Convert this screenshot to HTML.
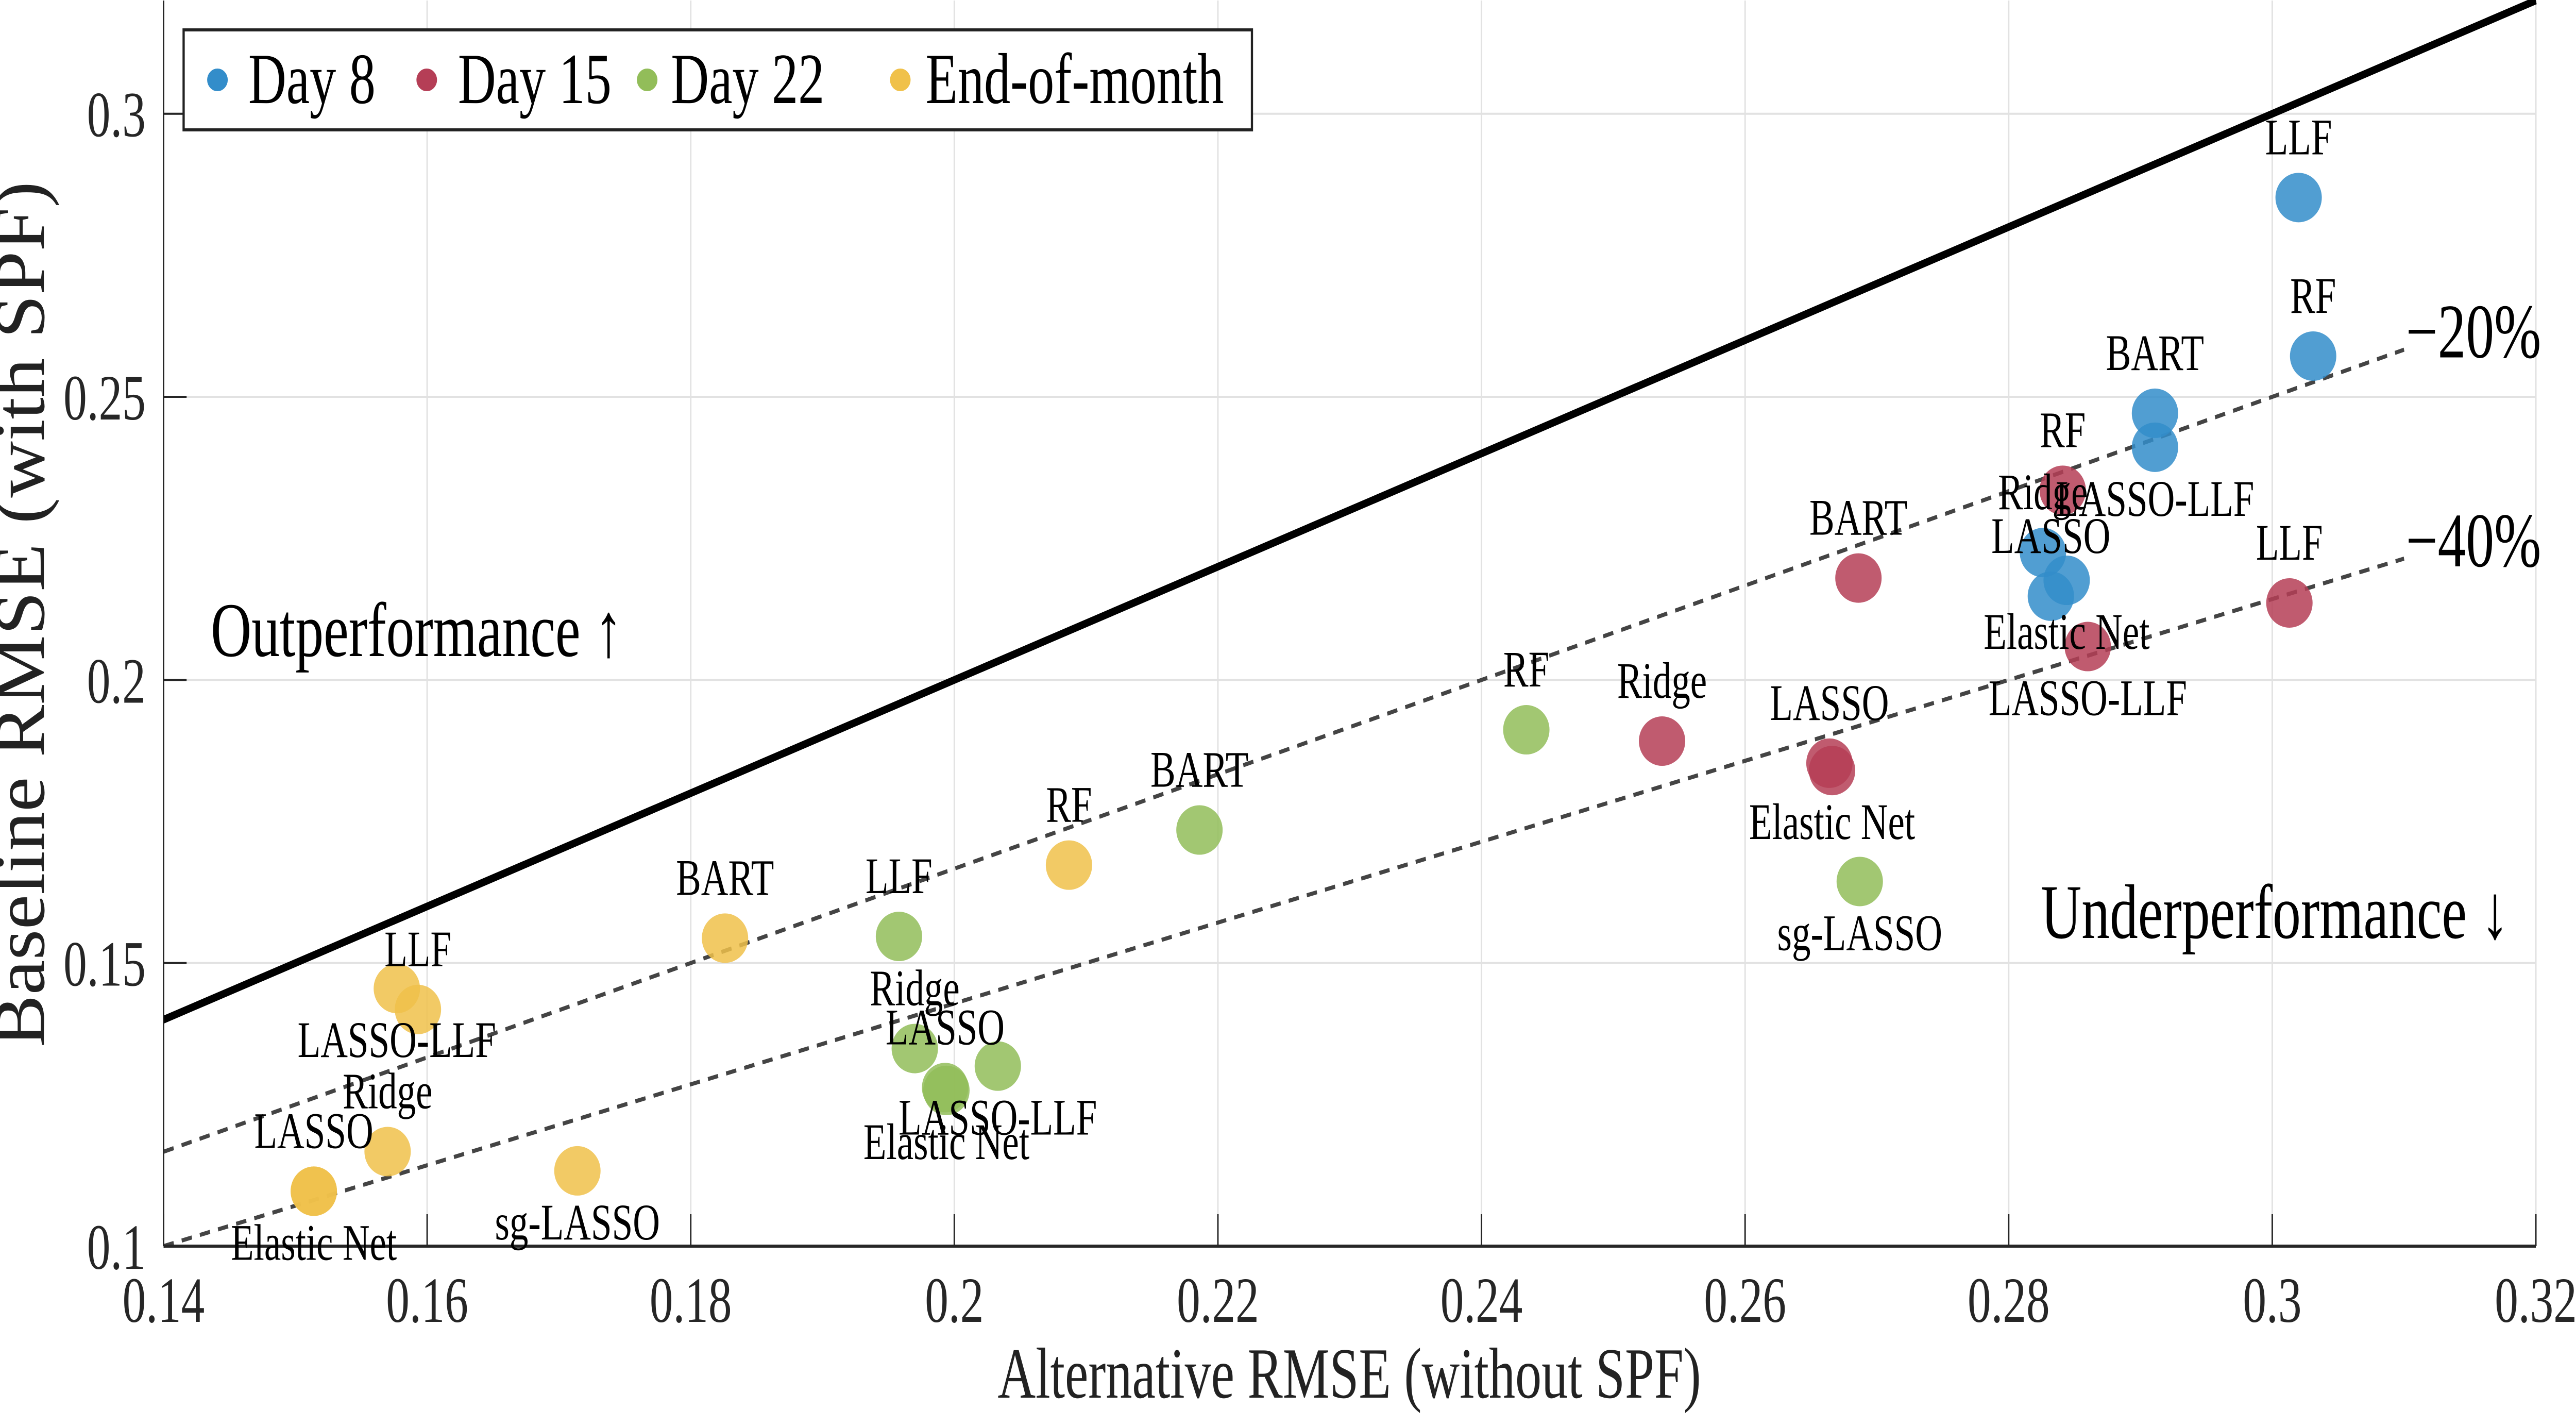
<!DOCTYPE html>
<html><head><meta charset="utf-8">
<style>
html,body{margin:0;padding:0;background:#fff;width:100%;height:100%;overflow:hidden;}
svg{display:block;font-family:"Liberation Serif",serif;width:100vw;height:100vh;}
</style></head>
<body>
<svg id="chart" viewBox="0 0 6930 2767" preserveAspectRatio="none" xmlns="http://www.w3.org/2000/svg">
<g id="grid"></g>
<g id="refs"></g>
<g id="axes"></g>
<g id="points"></g>
<g id="labels"></g>
<text class="st" x="567" y="1273" font-size="150" fill="#000">Outperformance ↑</text>
<text class="st" x="6750" y="1820" font-size="150" text-anchor="end" fill="#000">Underperformance ↓</text>
<text class="st" x="3630" y="2712" font-size="140" text-anchor="middle" fill="#222">Alternative RMSE (without SPF)</text>
<g id="ytitleg" transform="translate(118,2032)">
  <g transform="rotate(-90)">
    <text x="0" y="0" font-size="140" fill="#222" textLength="1680" lengthAdjust="spacingAndGlyphs">Baseline RMSE (with SPF)</text>
  </g>
</g>
<g>
  <rect x="494" y="58" width="2874" height="194" fill="#fff" stroke="#222" stroke-width="6"/>
  <g><ellipse class="dot" cx="585" cy="155" rx="20" ry="22" fill="#338dca"/><text class="st" x="668" y="200" font-size="140">Day 8</text></g>
  <g><ellipse class="dot" cx="1148" cy="155" rx="20" ry="22" fill="#b53e56"/><text class="st" x="1232" y="200" font-size="140">Day 15</text></g>
  <g><ellipse class="dot" cx="1741" cy="155" rx="20" ry="22" fill="#92bd59"/><text class="st" x="1805" y="200" font-size="140">Day 22</text></g>
  <g><ellipse class="dot" cx="2422" cy="155" rx="20" ry="22" fill="#f0c14a"/><text class="st" x="2490" y="200" font-size="140">End-of-month</text></g>
</g>
</svg>
<script>
const xTicks = [0.14,0.16,0.18,0.2,0.22,0.24,0.26,0.28,0.3,0.32];
const xTickLabels = ["0.14","0.16","0.18","0.2","0.22","0.24","0.26","0.28","0.3","0.32"];
const yTicks = [0.1,0.15,0.2,0.25,0.3];
const yTickLabels = ["0.1","0.15","0.2","0.25","0.3"];
const seriesNames = ["Day 8","Day 15","Day 22","End-of-month"];
const seriesColors = ["#338dca","#b53e56","#92bd59","#f0c14a"];

const day8Models = ["LLF","RF","BART","LASSO-LLF","Ridge","LASSO","Elastic Net"];
const day8X = [0.3020,0.3031,0.2911,0.2911,0.2826,0.2832,0.2844];
const day8Y = [0.2852,0.2572,0.2471,0.2411,0.2225,0.2148,0.2176];
const day8Pos = ["a","a","a","b","a","a","b"];

const day15Models = ["RF","BART","LLF","LASSO-LLF","Ridge","LASSO","Elastic Net"];
const day15X = [0.2841,0.2686,0.3013,0.2860,0.2537,0.2664,0.2666];
const day15Y = [0.2335,0.2180,0.2136,0.2059,0.1892,0.1853,0.1840];
const day15Pos = ["a","a","a","b","a","a","b"];

const day22Models = ["RF","sg-LASSO","BART","LLF","Ridge","LASSO-LLF","LASSO","Elastic Net"];
const day22X = [0.2434,0.2687,0.2186,0.1958,0.1970,0.2033,0.1993,0.1994];
const day22Y = [0.1912,0.1644,0.1735,0.1547,0.1349,0.1318,0.1280,0.1275];
const day22Pos = ["a","b","a","a","a","b","a","b"];

const eomModels = ["LLF","LASSO-LLF","BART","RF","Ridge","LASSO","Elastic Net","sg-LASSO"];
const eomX = [0.1593,0.1577,0.1826,0.2087,0.1570,0.1514,0.1514,0.1714];
const eomY = [0.1418,0.1455,0.1544,0.1673,0.1167,0.1097,0.1097,0.1133];
const eomPos = ["a","b","a","a","a","a","b","b"];

const refSlopes = [1, 1/1.2, 1/1.4];
const refLabels = ["", "\u221220%", "\u221240%"];
const refEnd = [0.32, 0.31, 0.31];

const NS = "http://www.w3.org/2000/svg";
const X0=440, X1=6822, Y0=2418, Y1=1;
const xMin=0.14,xMax=0.32,yMin=0.1,yMax=0.32;
function sx(v){return X0+(v-xMin)/(xMax-xMin)*(X1-X0);}
function sy(v){return Y0-(v-yMin)/(yMax-yMin)*(Y0-Y1);}
function mk(tag,attrs,parent){const e=document.createElementNS(NS,tag);for(const k in attrs)e.setAttribute(k,attrs[k]);parent.appendChild(e);return e;}

const grid=document.getElementById('grid');
const axes=document.getElementById('axes');
xTicks.forEach((t,i)=>{
  if(i>0){const g=mk('line',{x1:sx(t),x2:sx(t),y1:Y1,y2:Y0,stroke:'#e2e2e2','stroke-width':4},grid);
  
  }
  const tk=mk('line',{x1:sx(t),x2:sx(t),y1:Y0,y2:Y0-62,stroke:'#262626','stroke-width':4},axes);
  
  
  const tl=mk('text',{x:sx(t),y:2565,'font-size':125,'text-anchor':'middle',fill:'#262626','class':'st'},axes);
  tl.textContent=xTickLabels[i];
  
  
});
yTicks.forEach((t,i)=>{
  if(i>0){const g=mk('line',{x1:X0,x2:X1,y1:sy(t),y2:sy(t),stroke:'#e2e2e2','stroke-width':4},grid);
  
  }
  const tk=mk('line',{x1:X0,x2:X0+62,y1:sy(t),y2:sy(t),stroke:'#262626','stroke-width':4},axes);
  
  
  const tl=mk('text',{x:392,y:sy(t)+44,'font-size':125,'text-anchor':'end',fill:'#262626','class':'st'},axes);
  tl.textContent=yTickLabels[i];
  
  
});
const ax1=mk('line',{x1:X0,x2:X0,y1:Y1,y2:Y0,stroke:'#262626','stroke-width':4},axes);


const ax2=mk('line',{x1:X0,x2:X1,y1:Y0,y2:Y0,stroke:'#262626','stroke-width':6},axes);



const refs=document.getElementById('refs');
refSlopes.forEach((s,i)=>{
  const xa=xMin, xb=refEnd[i];
  const ln=mk('line',{x1:sx(xa),y1:sy(xa*s),x2:sx(xb),y2:sy(xb*s),stroke:i===0?'#000':'#444','stroke-width':i===0?15:8,'stroke-dasharray':i===0?'none':'28 22'},refs);
  
  
  if(refLabels[i]){
    const t=mk('text',{x:sx(xb)+5,y:sy(xb*s)+15,'font-size':150,fill:'#000','class':'st'},refs);
    t.textContent=refLabels[i];
    
    
  }
});

const pts=document.getElementById('points');
const labs=document.getElementById('labels');
const allSeries=[[day8Models,day8X,day8Y,day8Pos],[day15Models,day15X,day15Y,day15Pos],[day22Models,day22X,day22Y,day22Pos],[eomModels,eomX,eomY,eomPos]];
allSeries.forEach((S,si)=>{
  const [m,xs,ys,pos]=S;
  m.forEach((name,j)=>{
    const c=mk('ellipse',{cx:sx(xs[j]),cy:sy(ys[j]),rx:45,ry:48,fill:seriesColors[si],'fill-opacity':0.85,'class':'dot'},pts);
    
    
    const dy = pos[j]==='a' ? -117 : 100;
    const t=mk('text',{x:sx(xs[j]),y:sy(ys[j])+dy+33,'font-size':100,'text-anchor':'middle',fill:'#000','class':'st'},labs);
    t.textContent=name;
    
    
  });
});

// compensate for non-uniform viewport stretch; 0.73 condenses text to match the narrow reference typeface
function fixAspect(){
  const w=window.innerWidth||6930, h=window.innerHeight||2767;
  const f=(6930/2767)/(w/h);
  const tf=f*0.73;
  document.querySelectorAll('text.st').forEach(t=>{
    const x=+t.getAttribute('x'), y=+t.getAttribute('y');
    t.setAttribute('transform','translate('+x+','+y+') scale('+tf+',1) translate('+(-x)+','+(-y)+')');
  });
  document.getElementById('ytitleg').setAttribute('transform','translate(118,2032) scale('+f+',1)');
  document.querySelectorAll('ellipse.dot').forEach(e=>{
    if(!e.dataset.rx0) e.dataset.rx0=e.getAttribute('rx');
    e.setAttribute('rx', (+e.dataset.rx0)*f);
  });
}
fixAspect();
window.addEventListener('resize',fixAspect);
</script>
</body></html>
